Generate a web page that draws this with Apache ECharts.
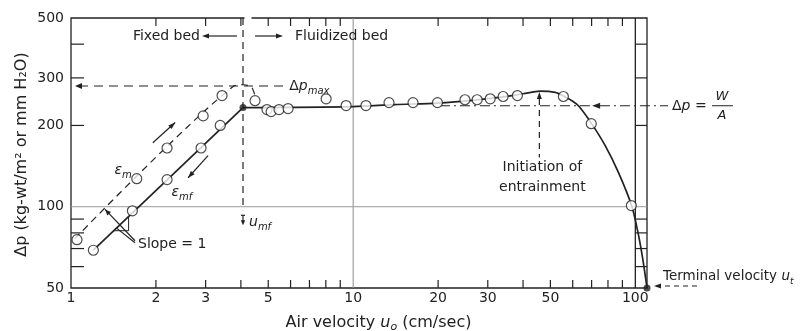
<!DOCTYPE html>
<html><head><meta charset="utf-8">
<script src="https://cdn.jsdelivr.net/npm/echarts@6/dist/echarts.min.js"></script>
<style>html,body{margin:0;padding:0;background:#fff}#c{width:805px;height:331px}</style>
</head><body><div id="c"></div>
<script>
// ---- axis ticks / labels ----
const xTickLabels = [1, 2, 3, 5, 10, 20, 30, 50, 100];
const yTickLabels = [50, 100, 200, 300, 500];
const xMinorTicks = [2, 3, 4, 5, 6, 7, 8, 9, 20, 30, 40, 50, 60, 70, 80, 90];
const yMinorTicks = [60, 70, 80, 90, 200, 300, 400];
const xGridLines = [10];
const xFrameLines = [100];
const yGridLines = [100];
const X0 = 1, X1 = 110, Y0 = 50, Y1 = 500;

// ---- data: fixed bed, increasing velocity (epsilon_m, dashed) ----
const emCircleVel = [1.05, 1.71, 2.19, 2.94, 3.43];
const emCircleDp  = [75.5, 127, 165, 217, 258];
const emLineVel = [1.03, 3.78, 4.07, 4.25, 4.38, 4.49];
const emLineDp  = [76, 280, 283, 281, 276, 258];
// ---- fixed bed, decreasing velocity (epsilon_mf, solid) ----
const emfCircleVel = [1.2, 1.65, 2.19, 2.89, 3.38];
const emfCircleDp  = [69, 96.6, 126, 165, 200];
const rampVel = [1.2, 4.07];
const rampDp  = [69, 233];
// ---- fluidized bed curve ----
const curveVel = [4.07, 10, 14, 20, 27, 34, 40, 46, 52, 56, 60, 63, 69.8, 78.3, 87.1, 97, 102, 106, 110];
const curveDp  = [233, 235, 239, 242, 248, 255, 262, 268, 265, 256, 246, 236, 204, 168, 134, 101, 81, 65, 50];
const fluidCircleVel = [4.49, 4.95, 5.12, 5.46, 5.88, 8.02, 9.44, 11.1, 13.4, 16.3, 19.9, 24.9, 27.5, 30.6, 34.0, 38.2, 55.6, 69.8, 96.8];
const fluidCircleDp  = [247, 229, 225, 229, 231, 251, 237, 237, 243, 243, 243, 249, 249, 251, 256, 258, 256, 203, 101];
const keyPointVel = [4.07, 110];
const keyPointDp  = [233, 50];
// ---- reference values ----
const umf = 4.07, umfArrowDp = 97, dpMax = 280, dpMaxEnd = 5.65;
const dpWA = 236.6, waStart = 20.3, waArrow = 70.3;
const uEntrain = 45.7, entrainTipDp = 266, entrainBottomDp = 152;
const uTerminal = 110;

const FONT = '"DejaVu Sans", sans-serif';
const INK = '#222222';
const zip = (a, b) => a.map((v, i) => [v, b[i]]);

function rich(size) {
  return {
    n: {fontSize: size, fontFamily: FONT, fill: INK, lineHeight: 20},
    i: {fontSize: size, fontFamily: FONT, fontStyle: 'italic', fill: INK, lineHeight: 20},
    s: {fontSize: Math.round(size * 0.68), fontFamily: FONT, fontStyle: 'italic', fill: INK, lineHeight: 10, verticalAlign: 'bottom'}
  };
}
function mk(api) {
  const ch = [];
  const P = (x, y) => api.coord([x, y]);
  const L = (a, b, st) => ch.push({type: 'line', silent: true,
    shape: {x1: a[0], y1: a[1], x2: b[0], y2: b[1]},
    style: Object.assign({stroke: INK, lineWidth: 1.2}, st || {})});
  const T = (s, x, y, o) => { o = o || {}; ch.push({type: 'text', silent: true, x: x, y: y, rotation: o.rot || 0,
    style: {text: s, x: 0, y: 0, fill: INK, font: (o.italic ? 'italic ' : '') + (o.size || 14) + 'px ' + FONT,
      align: o.align || 'left', verticalAlign: o.va || 'middle', rich: o.rich}}); };
  const H = (tip, from, len, half) => {
    len = len || 7; half = half || 3;
    const dx = tip[0] - from[0], dy = tip[1] - from[1], d = Math.hypot(dx, dy) || 1, ux = dx / d, uy = dy / d;
    const bx = tip[0] - ux * len, by = tip[1] - uy * len;
    ch.push({type: 'polygon', silent: true, shape: {points: [tip, [bx - uy * half, by + ux * half], [bx + uy * half, by - ux * half]]}, style: {fill: INK}});
  };
  return {ch, P, L, T, H};
}

function renderFrame(params, api) {
  const {ch, P, L, T} = mk(api);
  xGridLines.forEach(v => L(P(v, Y0), P(v, Y1), {stroke: '#8c8c8c', lineWidth: 1}));
  yGridLines.forEach(v => L(P(X0, v), P(X1, v), {stroke: '#9a9a9a', lineWidth: 1}));
  xFrameLines.forEach(v => L(P(v, Y0), P(v, Y1), {lineWidth: 1.3}));
  xMinorTicks.forEach(v => { const b = P(v, Y0), t = P(v, Y1); L(b, [b[0], b[1] - 8]); L(t, [t[0], t[1] + 8]); });
  yMinorTicks.forEach(v => { const l = P(X0, v), r = P(X1, v); L(l, [l[0] + 13, l[1]]); L(r, [r[0] - 12, r[1]]); });
  xTickLabels.forEach(v => { const b = P(v, Y0); T(String(v), b[0], b[1] + 10, {align: 'center'}); });
  yTickLabels.forEach(v => { const l = P(X0, v); T(String(v), l[0] - 7, l[1], {align: 'right'}); });
  // axis names
  const xb = P(12.3, Y0);
  T('{n|Air velocity }{i|u}{s|o}{n| (cm/sec)}', xb[0], xb[1] + 35, {align: 'center', rich: rich(16)});
  const yl = P(X0, 156);
  T('{n|Δp (kg-wt/m² or mm H₂O)}', yl[0] - 49, yl[1], {align: 'center', rot: Math.PI / 2, rich: rich(16)});
  return {type: 'group', children: ch};
}

function renderAnno(params, api) {
  const {ch, P, L, T, H} = mk(api);
  // u_mf line and gap in the top frame
  const top = P(umf, Y1), ub = P(umf, umfArrowDp);
  ch.push({type: 'rect', silent: true, shape: {x: top[0] + 1.5, y: top[1] - 2, width: 7, height: 4}, style: {fill: '#fff'}});
  L(top, [top[0], ub[1]], {lineDash: [7, 5]});
  L([top[0] - 2, ub[1] + 5], [top[0] + 2, ub[1] + 5]);
  L([top[0], ub[1] + 5], [top[0], ub[1] + 12]);
  H([top[0], ub[1] + 15], [top[0], ub[1] + 5], 5, 2.2);
  T('{i|u}{s|mf}', top[0] + 6, ub[1] + 12, {rich: rich(14)});
  // Fixed bed / Fluidized bed
  const fy = top[1] + 18;
  T('Fixed bed', top[0] - 43, fy, {align: 'right'});
  L([top[0] - 6, fy], [top[0] - 36, fy]); H([top[0] - 41, fy], [top[0] - 30, fy], 7, 2.5);
  L([top[0] + 12, fy], [top[0] + 34, fy]); H([top[0] + 40, fy], [top[0] + 30, fy], 7, 2.5);
  T('Fluidized bed', top[0] + 52, fy);
  // delta p max
  const a = P(X0, dpMax), b = P(dpMaxEnd, dpMax);
  L([a[0] + 8, a[1]], b, {lineDash: [9, 6]});
  H([a[0] + 4, a[1]], [a[0] + 14, a[1]], 7, 3);
  T('{n|Δ}{i|p}{s|max}', b[0] + 6, b[1], {rich: rich(14)});
  // delta p = W/A
  const w0 = P(waStart, dpWA), w1 = P(X1, dpWA), wa = P(waArrow, dpWA);
  L(w0, [w1[0] + 21, w0[1]], {lineDash: [10, 4, 2, 4]});
  H(wa, [wa[0] + 10, wa[1]], 8, 3);
  T('{n|Δ}{i|p}{n| =}', w1[0] + 25, w1[1] + 1, {rich: rich(14)});
  L([w1[0] + 65, w1[1]], [w1[0] + 86, w1[1]], {lineWidth: 1});
  T('W', w1[0] + 75, w1[1] - 9, {italic: true, align: 'center', size: 13});
  T('A', w1[0] + 75, w1[1] + 10, {italic: true, align: 'center', size: 13});
  // initiation of entrainment
  const e0 = P(uEntrain, entrainTipDp), e1 = P(uEntrain, entrainBottomDp);
  L([e0[0], e0[1] + 7], e1, {lineDash: [6, 5]});
  H(e0, [e0[0], e0[1] + 10], 7, 2.5);
  T('Initiation of', e0[0] + 3, e1[1] + 10, {align: 'center'});
  T('entrainment', e0[0] + 3, e1[1] + 30, {align: 'center'});
  // terminal velocity
  const t = P(uTerminal, Y0);
  L([t[0] + 9, t[1] - 2], [t[0] + 53, t[1] - 2], {lineDash: [5, 4]});
  H([t[0] + 7, t[1] - 2], [t[0] + 17, t[1] - 2], 7, 2.5);
  T('{n|Terminal velocity }{i|u}{s|t}', t[0] + 16, t[1] - 12, {rich: rich(13.5)});
  // epsilon labels and direction arrows
  const em = P(1.53, 136), emf = P(2.47, 112.7);
  T('{i|ε}{s|m}', em[0], em[1], {align: 'center', rich: rich(14)});
  T('{i|ε}{s|mf}', emf[0], emf[1], {align: 'center', rich: rich(14)});
  const a1 = P(1.95, 172.6), a2 = P(2.34, 205);
  L(a1, a2); H(a2, a1, 7, 2.5);
  const b1 = P(3.06, 154.5), b2 = P(2.6, 128);
  L(b1, b2); H(b2, b1, 7, 2.5);
  // slope = 1
  const s = P(1.728, 72.3);
  T('Slope = 1', s[0], s[1]);
  const d1 = P(1.32, 97.7), d2 = P(1.45, 83.3);
  L([s[0] - 3, s[1] - 4], d1); H(d1, [s[0] - 3, s[1] - 4], 6, 2.5);
  L([s[0] - 3, s[1] - 2], d2);
  const tr1 = P(1.42, 81.5), tr2 = P(1.6, 91.9), tr3 = P(1.6, 81.5);
  ch.push({type: 'polyline', silent: true, shape: {points: [tr1, tr3, tr2]}, style: {stroke: INK, lineWidth: 1, fill: null}});
  return {type: 'group', children: ch};
}

const circleStyle = {color: '#fff', borderColor: INK, borderWidth: 1.2};
const chart = echarts.init(document.getElementById('c'), null, {renderer: 'canvas'});
chart.setOption({
  animation: false,
  backgroundColor: '#fff',
  grid: {left: 71, right: 158, top: 18, bottom: 43, show: true, borderColor: INK, borderWidth: 1.3, backgroundColor: 'transparent'},
  xAxis: {type: 'log', logBase: 10, min: X0, max: X1, axisLine: {show: false}, axisTick: {show: false}, axisLabel: {show: false}, splitLine: {show: false}},
  yAxis: {type: 'log', logBase: 10, min: Y0, max: Y1, axisLine: {show: false}, axisTick: {show: false}, axisLabel: {show: false}, splitLine: {show: false}},
  series: [
    {type: 'custom', name: 'frame', z: 1, clip: false, data: [[X0, Y0]], encode: {x: 0, y: 1}, renderItem: renderFrame},
    {type: 'line', name: 'em line', z: 2, data: zip(emLineVel, emLineDp), showSymbol: false, smooth: 0.25,
      lineStyle: {color: INK, width: 1.2, type: [7, 5]}},
    {type: 'line', name: 'emf ramp', z: 2, data: zip(rampVel, rampDp), showSymbol: false,
      lineStyle: {color: INK, width: 1.7}},
    {type: 'line', name: 'fluid curve', z: 2, data: zip(curveVel, curveDp), showSymbol: false, smooth: 0.3,
      lineStyle: {color: INK, width: 1.7}},
    {type: 'custom', name: 'annotations', z: 3, clip: false, data: [[X0, Y0]], encode: {x: 0, y: 1}, renderItem: renderAnno},
    {type: 'scatter', name: 'em', z: 4, data: zip(emCircleVel, emCircleDp), symbolSize: 10, itemStyle: circleStyle},
    {type: 'scatter', name: 'emf', z: 4, data: zip(emfCircleVel, emfCircleDp), symbolSize: 10, itemStyle: circleStyle},
    {type: 'scatter', name: 'fluid', z: 4, data: zip(fluidCircleVel, fluidCircleDp), symbolSize: 10, itemStyle: circleStyle},
    {type: 'scatter', name: 'key', z: 5, data: zip(keyPointVel, keyPointDp), symbolSize: 7, itemStyle: {color: INK}}
  ]
});
</script></body></html>
